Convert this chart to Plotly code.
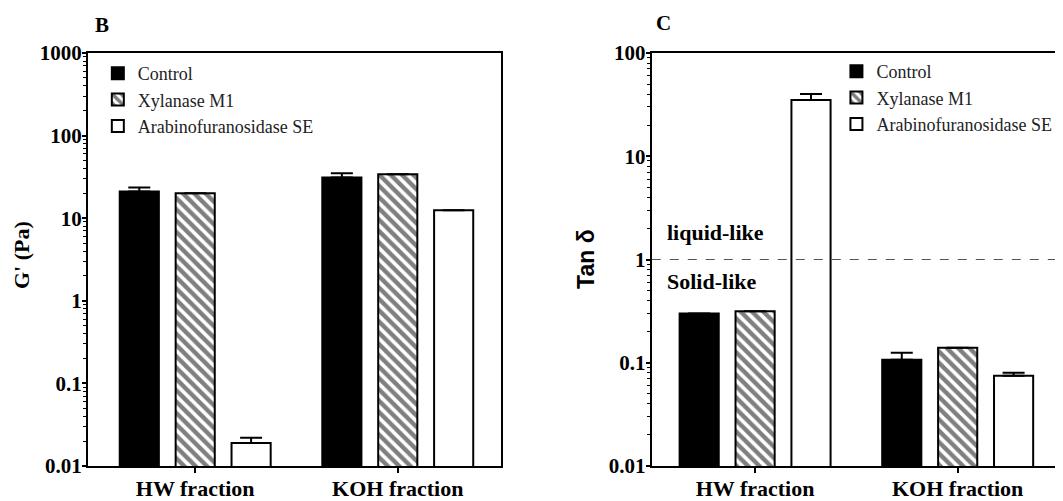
import plotly.graph_objects as go

categories = ["HW fraction", "KOH fraction"]
series = ["Control", "Xylanase M1", "Arabinofuranosidase SE"]

# Panel B: G' (Pa)
g_control = [21, 31]
g_control_err = [2.5, 4]
g_xylanase = [20, 34]
g_xylanase_err = [0, 0]
g_arabino = [0.019, 12.5]
g_arabino_err = [0.003, 0]

# Panel C: Tan delta
t_control = [0.30, 0.107]
t_control_err = [0, 0.018]
t_xylanase = [0.315, 0.14]
t_xylanase_err = [0, 0]
t_arabino = [35, 0.075]
t_arabino_err = [5, 0.005]

y_ticks_b = [0.01, 0.1, 1, 10, 100, 1000]
y_ticklabels_b = ["0.01", "0.1", "1", "10", "100", "1000"]
y_ticks_c = [0.01, 0.1, 1, 10, 100]
y_ticklabels_c = ["0.01", "0.1", "1", "10", "100"]

SERIF = "Liberation Serif"
W, H = 1055, 493          # page body has an 8px default margin
OFF = 8


def px(sx):
    return (sx - OFF) / W


def py(sy):
    return (468 - sy) / 415


styles = [
    dict(color="black", pattern=None),
    dict(color="white", pattern=dict(shape="\\", fgcolor="black", bgcolor="white", size=8, solidity=0.55)),
    dict(color="white", pattern=None),
]

fig = go.Figure()

panels = [
    ("x", "y", "legend", [g_control, g_xylanase, g_arabino], [g_control_err, g_xylanase_err, g_arabino_err]),
    ("x2", "y2", "legend2", [t_control, t_xylanase, t_arabino], [t_control_err, t_xylanase_err, t_arabino_err]),
]

for xa, ya, leg, vals, errs in panels:
    for i, name in enumerate(series):
        st = styles[i]
        marker = dict(color=st["color"], line=dict(color="black", width=2))
        if st["pattern"]:
            marker["pattern"] = st["pattern"]
        fig.add_trace(go.Bar(
            x=categories, y=vals[i], name=name,
            xaxis=xa, yaxis=ya, legend=leg,
            legendgroup=leg + str(i),
            marker=marker,
            error_y=dict(type="data", symmetric=False, array=errs[i],
                         arrayminus=[0] * len(errs[i]),
                         color="black", thickness=2, width=11),
            offsetgroup=str(i),
        ))

axis_common = dict(showline=True, linewidth=2, linecolor="black", mirror=True,
                   showgrid=False, zeroline=False, ticks="outside", tickwidth=1.5,
                   tickcolor="black")

xtickfont = dict(family=SERIF, size=22, weight="bold", color="black")
ytickfont = dict(family=SERIF, size=21, weight="bold", color="black")
minor = dict(ticks="outside", ticklen=3, tickcolor="black", tickwidth=1, dtick="D1")

fig.update_layout(
    width=W, height=H,
    margin=dict(l=0, r=0, t=53 - OFF, b=H - (468 - OFF)),
    plot_bgcolor="white", paper_bgcolor="white",
    barmode="group", bargap=0.172, bargroupgap=0.30,
    font=dict(family=SERIF, color="black"),
    xaxis=dict(domain=[px(88), px(502)], range=[-0.53, 1.51], ticklen=5, ticklabelstandoff=-3,
               tickfont=xtickfont, **axis_common),
    xaxis2=dict(domain=[px(653), 1.0], range=[-0.51, 1.51], anchor="y2", ticklen=5,
                ticklabelstandoff=-3, tickfont=xtickfont, **axis_common),
    yaxis=dict(type="log", range=[-2, 3], tickvals=y_ticks_b, ticktext=y_ticklabels_b,
               ticklen=4, ticklabelstandoff=-4, tickfont=ytickfont, minor=minor, **axis_common),
    yaxis2=dict(type="log", range=[-2, 2], anchor="x2", tickvals=y_ticks_c, ticktext=y_ticklabels_c,
                ticklen=4, ticklabelstandoff=-4, tickfont=ytickfont, minor=minor, **axis_common),
    legend=dict(x=px(98), y=py(55), xanchor="left", yanchor="top",
                font=dict(family=SERIF, size=18, color="#222"), bgcolor="rgba(0,0,0,0)",
                tracegroupgap=0, itemsizing="constant"),
    legend2=dict(x=px(838), y=py(53), xanchor="left", yanchor="top",
                 font=dict(family=SERIF, size=18, color="#222"), bgcolor="rgba(0,0,0,0)",
                 tracegroupgap=0, itemsizing="constant"),
    showlegend=True,
)

fig.add_shape(type="line", xref="x2 domain", yref="y2", x0=0, x1=1, y0=1, y1=1,
              line=dict(color="#555", width=1.2, dash="dash"))

ann = [
    dict(text="<b>B</b>", x=102, y=25, size=21, family=SERIF, angle=0, xanchor="center"),
    dict(text="<b>C</b>", x=665, y=23, size=21, family=SERIF, angle=0, xanchor="center"),
    dict(text="<b>G' (Pa)</b>", x=21, y=256, size=22, family=SERIF, angle=-90, xanchor="center"),
    dict(text="<b>Tan δ</b>", x=587, y=260, size=23, family="Liberation Sans", angle=-90, xanchor="center"),
    dict(text="<b>liquid-like</b>", x=666, y=233, size=22, family=SERIF, angle=0, xanchor="left"),
    dict(text="<b>Solid-like</b>", x=666, y=283, size=22, family=SERIF, angle=0, xanchor="left"),
]
for a in ann:
    fig.add_annotation(text=a["text"], x=px(a["x"]), y=py(a["y"]), xref="paper", yref="paper",
                       showarrow=False, textangle=a["angle"], xanchor=a["xanchor"], yanchor="middle",
                       font=dict(family=a["family"], size=a["size"], color="black"))

fig.write_html("out.html")
